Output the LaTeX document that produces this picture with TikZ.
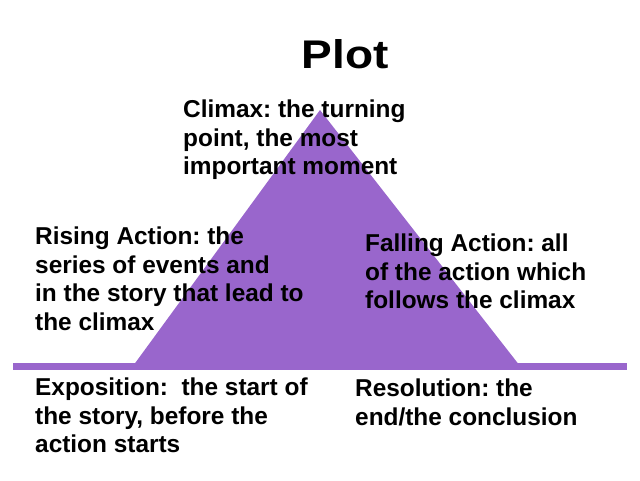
\documentclass[tikz,border=0pt]{standalone}
\usepackage{fontspec}
\setmainfont{Liberation Sans}
\newfontfamily\titlefont[FakeStretch=1.15]{Liberation Sans}
\usepackage{tikz}
\usepackage{xcolor}
\definecolor{plotpurple}{RGB}{153,102,204}
\frenchspacing
\tikzstyle{stage} = [anchor=north west, inner sep=0pt, align=left, font=\fontsize{24.4}{28.5}\selectfont\bfseries]
\tikzstyle{title} = [anchor=base, inner sep=0pt, font=\titlefont\fontsize{40}{44}\selectfont\bfseries]

\begin{document}
\begin{tikzpicture}[x=1pt, y=1pt]
    \useasboundingbox (0,0) rectangle (640,480);

    % Title
    \node[title] (plot) at (345, 411) {Plot};

    % Mountain and base line
    \coordinate (apex) at (320, 370);
    \coordinate (footL) at (133, 114);
    \coordinate (footR) at (520, 114);
    \fill[plotpurple] (footL) -- (apex) -- (footR) -- cycle;
    \fill[plotpurple] (13, 110.5) rectangle (627, 117.5);

    % Stages of the plot
    \node[stage] (climax) at (183, 380) {Climax: the turning\\point, the most\\important moment};
    \node[stage] (rising) at (35, 253) {Rising Action: the\\series of events and\\in the story that lead to\\the climax};
    \node[stage] (falling) at (365, 246) {Falling Action: all\\of the action which\\follows the climax};
    \node[stage] (expo) at (35, 102) {Exposition:\ \ the start of\\the story, before the\\action starts};
    \node[stage] (resol) at (355, 101) {Resolution: the\\end/the conclusion};
\end{tikzpicture}
\end{document}
